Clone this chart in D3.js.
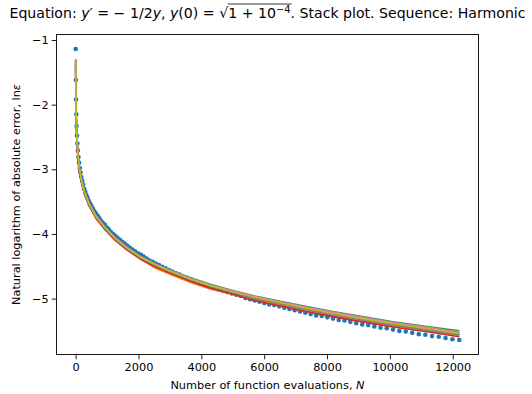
<!DOCTYPE html>
<html><head><meta charset="utf-8">
<script src="https://cdn.jsdelivr.net/npm/d3@7"></script>
<style>body{margin:0;background:#fff} svg{display:block} text{font-family:"DejaVu Sans",sans-serif;fill:#000}</style>
</head><body><svg id="c" width="532" height="394"></svg>
<script>
// Blue dots: number of function evaluations and ln(error)
const dotN = [2,6,12,20,30,42,56,72,90,110,132,156,182,210,240,272,306,342,380,420,462,506,552,600,650,702,756,812,870,930,992,1056,1122,1190,1260,1332,1406,1482,1560,1640,1722,1806,1892,1980,2070,2162,2256,2352,2450,2550,2652,2756,2862,2970,3080,3192,3306,3422,3540,3660,3782,3906,4032,4160,4290,4422,4556,4692,4830,4970,5112,5256,5402,5550,5700,5852,6006,6162,6320,6480,6642,6806,6972,7140,7310,7482,7656,7832,8010,8190,8372,8556,8742,8930,9120,9312,9506,9702,9900,10100,10302,10506,10712,10920,11130,11342,11556,11772,11990,12210];
const dotLnErr = [-1.14,-1.62,-1.92,-2.15,-2.33,-2.48,-2.60,-2.71,-2.81,-2.90,-2.98,-3.05,-3.12,-3.18,-3.24,-3.30,-3.35,-3.40,-3.44,-3.49,-3.53,-3.57,-3.61,-3.65,-3.69,-3.72,-3.76,-3.80,-3.83,-3.86,-3.90,-3.93,-3.97,-4.00,-4.03,-4.06,-4.09,-4.12,-4.15,-4.18,-4.21,-4.24,-4.27,-4.30,-4.32,-4.35,-4.38,-4.41,-4.43,-4.46,-4.48,-4.51,-4.53,-4.56,-4.58,-4.61,-4.63,-4.66,-4.68,-4.70,-4.73,-4.75,-4.77,-4.79,-4.82,-4.84,-4.86,-4.88,-4.90,-4.92,-4.94,-4.96,-4.99,-5.01,-5.03,-5.05,-5.07,-5.09,-5.10,-5.12,-5.14,-5.16,-5.18,-5.20,-5.22,-5.24,-5.26,-5.27,-5.29,-5.31,-5.33,-5.34,-5.36,-5.38,-5.40,-5.41,-5.43,-5.45,-5.46,-5.48,-5.50,-5.51,-5.53,-5.55,-5.56,-5.58,-5.59,-5.61,-5.63,-5.64];

// Stacked line series (shared N)
const lineN = [2,6,12,20,42,72,110,182,272,420,650,930,1260,1640,2070,2550,3080,3660,4290,4970,5700,6480,7310,8190,9120,10100,11130,12210];
const seriesOrange = [-1.29,-1.70,-2.00,-2.23,-2.56,-2.79,-2.98,-3.18,-3.36,-3.55,-3.75,-3.92,-4.09,-4.24,-4.39,-4.53,-4.64,-4.75,-4.85,-4.93,-5.02,-5.10,-5.19,-5.27,-5.35,-5.42,-5.50,-5.57];
const seriesGreen  = [-1.33,-1.66,-1.96,-2.19,-2.52,-2.75,-2.94,-3.15,-3.33,-3.52,-3.72,-3.89,-4.06,-4.21,-4.35,-4.47,-4.58,-4.68,-4.78,-4.87,-4.96,-5.04,-5.12,-5.20,-5.28,-5.36,-5.43,-5.50];
const seriesRed    = [-1.40,-1.74,-2.04,-2.27,-2.60,-2.83,-3.02,-3.19,-3.37,-3.56,-3.76,-3.93,-4.10,-4.25,-4.39,-4.51,-4.62,-4.73,-4.84,-4.93,-5.03,-5.11,-5.20,-5.28,-5.36,-5.44,-5.51,-5.59];
const seriesPurple = [-1.31,-1.67,-1.97,-2.20,-2.53,-2.76,-2.95,-3.16,-3.33,-3.52,-3.72,-3.90,-4.06,-4.22,-4.36,-4.48,-4.59,-4.69,-4.79,-4.88,-4.97,-5.05,-5.14,-5.22,-5.30,-5.38,-5.45,-5.53];
const seriesBrown  = [-1.36,-1.68,-1.98,-2.21,-2.54,-2.77,-2.96,-3.17,-3.34,-3.53,-3.73,-3.91,-4.07,-4.23,-4.37,-4.49,-4.60,-4.70,-4.80,-4.89,-4.99,-5.07,-5.16,-5.24,-5.32,-5.40,-5.47,-5.55];
const seriesPink   = [-1.32,-1.66,-1.96,-2.19,-2.52,-2.75,-2.94,-3.15,-3.33,-3.52,-3.72,-3.89,-4.06,-4.21,-4.35,-4.47,-4.58,-4.69,-4.79,-4.88,-4.97,-5.05,-5.13,-5.21,-5.29,-5.37,-5.44,-5.52];
const seriesGray   = [-1.38,-1.69,-1.99,-2.22,-2.55,-2.78,-2.97,-3.17,-3.35,-3.54,-3.74,-3.91,-4.08,-4.23,-4.37,-4.49,-4.60,-4.71,-4.81,-4.90,-5.00,-5.08,-5.17,-5.25,-5.33,-5.41,-5.49,-5.56];
const seriesOlive  = [-1.34,-1.67,-1.97,-2.20,-2.53,-2.76,-2.95,-3.16,-3.34,-3.53,-3.73,-3.90,-4.07,-4.22,-4.36,-4.48,-4.59,-4.70,-4.80,-4.89,-4.98,-5.06,-5.15,-5.23,-5.31,-5.39,-5.46,-5.54];

const xTicks = [0,2000,4000,6000,8000,10000,12000];
const yTicks = [-1,-2,-3,-4,-5];
const yTickLabels = ["\u22121","\u22122","\u22123","\u22124","\u22125"];

const lineSeries = [
  {vals: seriesOrange, color: "#ff7f0e"},
  {vals: seriesGreen,  color: "#2ca02c"},
  {vals: seriesRed,    color: "#d62728"},
  {vals: seriesPurple, color: "#9467bd"},
  {vals: seriesBrown,  color: "#8c564b"},
  {vals: seriesPink,   color: "#e377c2"},
  {vals: seriesGray,   color: "#7f7f7f"},
  {vals: seriesOlive,  color: "#bcbd22"}
];

const svg = d3.select("#c");
const L = 56.5, R = 478.5, T = 34.5, B = 354.5;

const allY = dotLnErr.concat(...lineSeries.map(s => s.vals));
const xmin = d3.min(dotN), xmax = d3.max(dotN);
const ymin = d3.min(allY), ymax = d3.max(allY);
const xr = xmax - xmin, yr = ymax - ymin;
const x = d3.scaleLinear().domain([xmin - 0.05*xr, xmax + 0.05*xr]).range([L, R]);
const y = d3.scaleLinear().domain([ymin - 0.05*yr, ymax + 0.05*yr]).range([B, T]);

svg.append("clipPath").attr("id","clip").append("rect")
  .attr("x", L).attr("y", T).attr("width", R-L).attr("height", B-T);

const plot = svg.append("g").attr("clip-path","url(#clip)");

// dots (drawn first, C0)
plot.selectAll("circle.dot").data(dotN.map((n,i)=>[n, dotLnErr[i]])).enter()
  .append("circle").attr("class","dot")
  .attr("cx", d => x(d[0])).attr("cy", d => y(d[1])).attr("r", 2.3)
  .attr("fill", "#1f77b4");

const line = d3.line().x(d => x(d[0])).y(d => y(d[1]));
lineSeries.forEach(s => {
  plot.append("path").datum(lineN.map((n,i)=>[n, s.vals[i]]))
    .attr("d", line).attr("fill","none").attr("stroke", s.color)
    .attr("stroke-width", 1.65).attr("stroke-linejoin","round");
});

// axes
const xAxis = d3.axisBottom(x).tickValues(xTicks).tickSize(4.8).tickPadding(3).tickFormat(d3.format("d"));
const gx = svg.append("g").attr("transform", `translate(0,${B})`).call(xAxis);
const yAxis = d3.axisLeft(y).tickValues(yTicks).tickSize(4.8).tickPadding(3).tickFormat((d,i)=>yTickLabels[i]);
const gy = svg.append("g").attr("transform", `translate(${L},0)`).call(yAxis);
[gx, gy].forEach(g => {
  g.select(".domain").remove();
  g.selectAll("text").attr("font-size", 11.3).attr("font-family", "DejaVu Sans").attr("fill","#000");
  g.selectAll("line").attr("stroke","#000").attr("stroke-width",0.9);
});
gx.selectAll("text").attr("dy", "0.75em").attr("y", 8);

// frame
svg.append("rect").attr("x", L).attr("y", T).attr("width", R-L).attr("height", B-T)
  .attr("fill","none").attr("stroke","#000").attr("stroke-width",0.9);

// axis labels
const xl = svg.append("text").attr("x", (L+R)/2).attr("y", 389).attr("text-anchor","middle").attr("font-size", 11.3);
xl.append("tspan").text("Number of function evaluations, ");
xl.append("tspan").attr("font-style","italic").text("N");

const yl = svg.append("text").attr("transform", `translate(20,${(T+B)/2}) rotate(-90)`).attr("text-anchor","middle").attr("font-size", 11.3);
yl.append("tspan").text("Natural logarithm of absolute error, ln");
yl.append("tspan").attr("font-style","italic").text("\u03b5");

// title (math parts get gaps, as in mathtext)
const tfs = 14.1;
const t = svg.append("text").attr("x", (L+R)/2).attr("y", 18).attr("text-anchor","middle").attr("font-size", tfs);
const gaps = [];
t.append("tspan").text("Equation: ");
t.append("tspan").attr("font-style","italic").text("y");
t.append("tspan").text("\u2032");
gaps.push(t.append("tspan").text("="));
gaps.push(t.append("tspan").text("\u2212"));
gaps.push(t.append("tspan").text("1/2"));
t.append("tspan").attr("font-style","italic").text("y");
t.append("tspan").text(", ");
t.append("tspan").attr("font-style","italic").text("y");
t.append("tspan").text("(0)");
gaps.push(t.append("tspan").text("="));
gaps.push(t.append("tspan").text("\u221a"));
t.append("tspan").text("1");
gaps.push(t.append("tspan").text("+"));
gaps.push(t.append("tspan").text("10"));
const sup = t.append("tspan").attr("dy", -5.5).attr("font-size", tfs*0.7).text("\u22124");
t.append("tspan").attr("dy", 5.5).text(". Stack plot. Sequence: Harmonic");

const targetW = 516;
const w0 = t.node().getComputedTextLength();
const g = Math.min(7, Math.max(2, (targetW - w0) / gaps.length));
gaps.forEach(s => s.attr("dx", g));

// overline of the square root
const full = t.node().textContent;
const i0 = full.indexOf("\u221a") + 1;
const i1 = full.indexOf("\u22124") + 1;
const tn = t.node();
const xa = tn.getStartPositionOfChar(i0).x;
const xb = tn.getEndPositionOfChar(i1).x;
svg.append("line").attr("x1", xa - 0.5).attr("x2", xb + 1).attr("y1", 4).attr("y2", 4)
  .attr("stroke","#000").attr("stroke-width",0.8);
</script>
</body></html>
